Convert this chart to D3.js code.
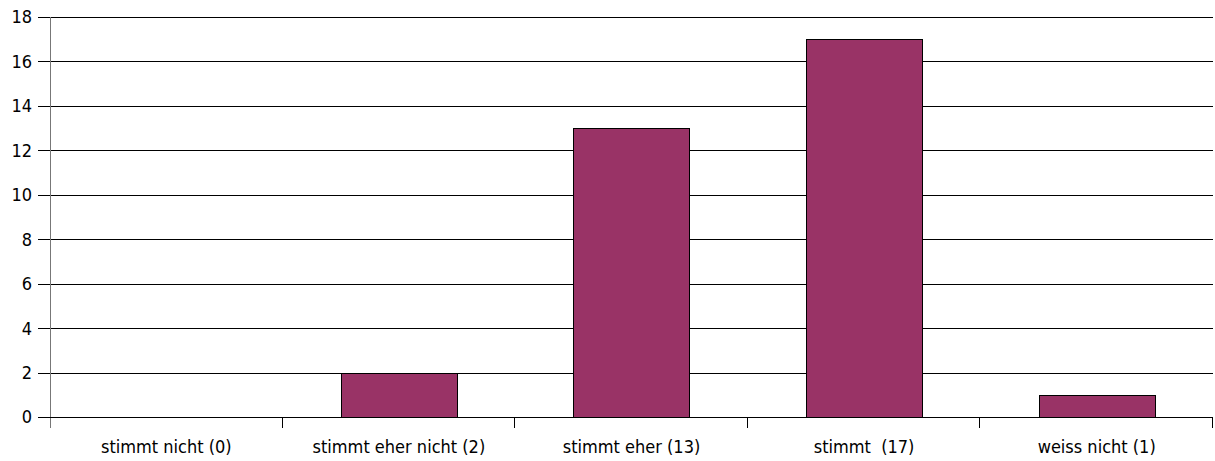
<!DOCTYPE html>
<html><head><meta charset="utf-8">
<script src="https://cdn.jsdelivr.net/npm/d3@7"></script>
<style>
body{margin:0;background:#fff;}
text{font-family:"DejaVu Sans Condensed","DejaVu Sans",sans-serif;font-size:18px;fill:#000;}
</style></head><body>
<svg id="c" width="1215" height="461"></svg>
<script>
const categories = ["stimmt nicht (0)", "stimmt eher nicht (2)", "stimmt eher (13)", "stimmt  (17)", "weiss nicht (1)"];
const values = [0, 2, 13, 17, 1];
const yTicks = [0, 2, 4, 6, 8, 10, 12, 14, 16, 18];

const svg = d3.select("#c");
const L = 50, R = 1213, T = 17, B = 417;
const x = d3.scaleBand().domain(categories).range([L, R]).paddingInner(0.5).paddingOuter(0.25);
const xb = d3.scaleBand().domain(categories).range([L, R]);
const y = d3.scaleLinear().domain([0, 18]).range([B, T]);

// gridlines
svg.append("g").selectAll("line").data(yTicks).join("line")
  .attr("x1", L).attr("x2", R)
  .attr("y1", d => Math.round(y(d)) + 0.5).attr("y2", d => Math.round(y(d)) + 0.5)
  .attr("stroke", "#000").attr("stroke-width", 1);

// y ticks and labels
svg.append("g").selectAll("line").data(yTicks).join("line")
  .attr("x1", L - 12).attr("x2", L)
  .attr("y1", d => Math.round(y(d)) + 0.5).attr("y2", d => Math.round(y(d)) + 0.5)
  .attr("stroke", "#000");
svg.append("g").selectAll("text").data(yTicks).join("text")
  .attr("x", 32).attr("y", d => y(d)).attr("dy", "0.36em")
  .attr("text-anchor", "end").text(d => d);

// bars
svg.append("g").selectAll("rect").data(values).join("rect")
  .attr("x", (d, i) => Math.round(x(categories[i])) + 0.5)
  .attr("y", d => Math.round(y(d)) + 0.5)
  .attr("width", Math.round(x.bandwidth()))
  .attr("height", d => Math.round(y(0)) - Math.round(y(d)))
  .attr("fill", "#993366").attr("stroke", "#000").attr("stroke-width", 1);

// y axis line
svg.append("line").attr("x1", L + 0.5).attr("x2", L + 0.5).attr("y1", T).attr("y2", B + 11)
  .attr("stroke", "#777");

// x axis line
svg.append("line").attr("x1", L).attr("x2", R).attr("y1", B + 0.5).attr("y2", B + 0.5).attr("stroke", "#000");

// x ticks at boundaries
const bounds = categories.map(c => xb(c)).concat([R]);
svg.append("g").selectAll("line").data(bounds.slice(1)).join("line")
  .attr("x1", d => Math.round(d) - 0.5).attr("x2", d => Math.round(d) - 0.5)
  .attr("y1", B).attr("y2", B + 11).attr("stroke", "#000");

// x labels
svg.append("g").selectAll("text").data(categories).join("text")
  .attr("x", d => xb(d) + xb.bandwidth() / 2).attr("y", 453)
  .attr("text-anchor", "middle").style("white-space", "pre").attr("xml:space", "preserve").text(d => d);
</script>
</body></html>
